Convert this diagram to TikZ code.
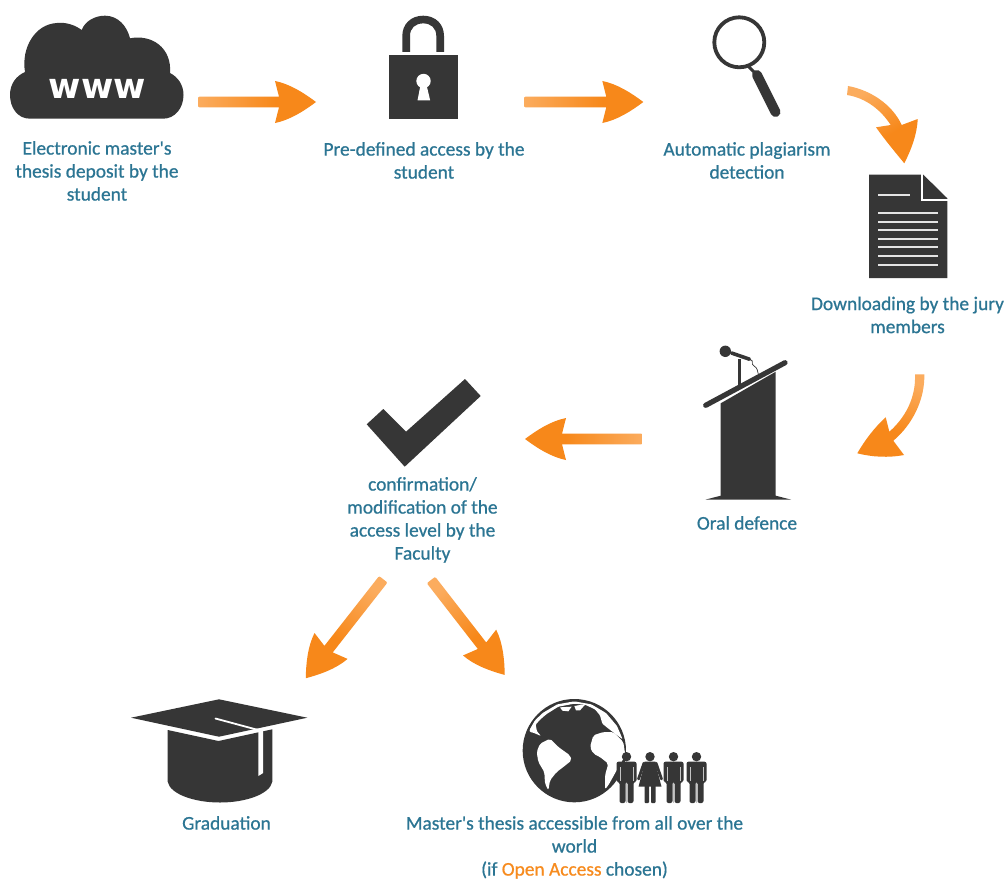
\documentclass[tikz,border=0pt]{standalone}
\usepackage{fontspec}
\newfontfamily\labelfont{Carlito}[FakeBold=0.7]
\newfontfamily\wwwfont{DejaVu Sans}[LetterSpace=1]
\usetikzlibrary{calc}
\definecolor{ink}{HTML}{363636}
\definecolor{teal}{HTML}{2B7593}
\definecolor{oaorange}{HTML}{F78B1E}
\definecolor{tailc}{HTML}{FBAC5E}
\definecolor{headc}{HTML}{F7881A}
\definecolor{ruled}{HTML}{E4E4E4}
\pgfdeclarehorizontalshading{arrowgrad}{100bp}{color(0bp)=(tailc); color(25bp)=(tailc); color(58bp)=(headc); color(100bp)=(headc)}
\newcommand\fatarrow[2]{%
  \path let \p1=($(#2)-(#1)$), \n1={atan2(\y1,\x1)}, \n2={veclen(\x1,\y1)} in
    \pgfextra{\xdef\faangle{\n1}\xdef\falen{\n2}};
  \begin{scope}[shift={(#1)},rotate=\faangle,x=1pt,y=1pt]
    \shade[shading=arrowgrad,shading angle=\faangle]
      (1.5,-5.3) -- ({\falen-37pt},-5.3pt) -- ({\falen-41pt},-21pt)
      .. controls ({\falen-26pt},-18pt) and ({\falen-12pt},-9pt) .. (\falen,0pt)
      .. controls ({\falen-12pt},9pt) and ({\falen-26pt},18pt) .. ({\falen-41pt},21pt)
      -- ({\falen-37pt},5.3pt) -- (1.5,5.3) .. controls (0,5.3) and (0,4) .. (0,3) -- (0,-3) .. controls (0,-4) and (0,-5.3) .. (1.5,-5.3) -- cycle;
  \end{scope}}
\tikzset{
  label text/.style={font=\labelfont\fontsize{19.4}{23}\selectfont,text=teal,align=center,inner sep=0pt},
  gapline/.style={draw=white,line width=1.6pt},
  rule line/.style={draw=ruled,line width=1.8pt},
  man/.pic={
    \fill[ink] (0,-7.3) circle (4.7);
    \fill[ink,rounded corners=2pt] (-10,-2.3) -- (10,-2.3) -- (10,18) -- (7,18) -- (7,39) -- (1,39) -- (1,18) -- (-1,18) -- (-1,39) -- (-7,39) -- (-7,18) -- (-10,18) -- cycle;
    \draw[white!70!ink,line width=.7pt] (-6.6,3) -- (-6.6,17) (6.6,3) -- (6.6,17) (0,19) -- (0,39);
  },
  woman/.pic={
    \fill[ink] (0,-7.3) circle (4.7);
    \fill[ink] (-5,-2.3) -- (5,-2.3) -- (11.5,22.7) -- (-11.5,22.7) -- cycle;
    \draw[ink,line width=2.8pt,line cap=round] (-6,-1) -- (-11.5,15) (6,-1) -- (11.5,15);
    \fill[ink,rounded corners=1pt] (-5.5,20) rectangle (-1,39);
    \fill[ink,rounded corners=1pt] (1,20) rectangle (5.5,39);
  }
}
\begin{document}
\begin{tikzpicture}[x=1pt,y=-1pt]
\useasboundingbox[fill=white] (0,0) rectangle (1008,880);

% ---- cloud
\fill[ink] (30,118.7)
  .. controls (17,118.7) and (10,107) .. (10,95)
  .. controls (10,84) and (16,76) .. (25,72)
  .. controls (21,48) and (35,24) .. (57,23)
  .. controls (66,22) and (75,25) .. (81.7,30)
  .. controls (85,21) and (95,15.7) .. (105,15.7)
  .. controls (118,15.7) and (127,26) .. (130,38.3)
  .. controls (152,34) and (172,48) .. (170,73)
  .. controls (178,77) and (183.5,85) .. (183.5,95)
  .. controls (183.5,108) and (175,118.7) .. (163,118.7) -- cycle;
\node[font=\wwwfont\bfseries\fontsize{35}{35}\selectfont,text=white,inner sep=0pt] (www) at (97.5,89) {www};

% ---- padlock
\fill[ink] (389.3,55) rectangle (458.3,119.3);
\fill[ink] (402.3,52) -- (402.3,36) .. controls (402.3,24) and (411,15.7) .. (423.2,15.7)
  .. controls (435.4,15.7) and (444,24) .. (444,36) -- (444,52) -- (436.3,52) -- (436.3,36)
  .. controls (436.3,28) and (431,23.4) .. (423.2,23.4)
  .. controls (415.4,23.4) and (410,28) .. (410,36) -- (410,52) -- cycle;
\fill[white] (423.5,81) circle (7.2);
\fill[white] (420.5,85) -- (426.5,85) -- (430.2,100.5) -- (417.5,100.5) -- cycle;

% ---- magnifier
\draw[ink,line width=3.8pt] (739.3,42.3) circle (25);
\draw[ink,line width=3pt] (748,66) -- (754,72);
\draw[ink,line width=10pt,line cap=round] (757,75) -- (775.5,112);

% ---- document
\fill[ink] (869,174.7) -- (923.3,174.7) -- (947.3,198.3) -- (947.3,278) -- (869,278) -- cycle;
\draw[gapline,line width=1.5pt] (922.2,174) -- (922.2,199.8) -- (948,199.8);
\foreach \yy in {213,221.7,230.3,239,247.3,256,264.7}
  \draw[rule line] (878.3,\yy) -- (938.3,\yy);
\draw[rule line] (878.3,194.7) -- (910,194.7);

% ---- lectern
\fill[ink] (720.7,403.3) -- (775.7,371.7) -- (775.7,495.7) -- (791,499.6) -- (705.5,499.6) -- (720.7,495.7) -- cycle;
\draw[ink,line width=5.2pt,line cap=round] (705.7,405.3) -- (785,362.7);
\draw[ink,line width=2.8pt] (739.3,359) -- (739.3,386);
\fill[ink] (725.3,351.3) circle (5.7);
\draw[ink,line width=3.6pt,line cap=round] (731.5,353) -- (749.5,359.2);
\draw[ink,line width=.7pt] (750,359.5) .. controls (755,361) and (750,364) .. (754,366) .. controls (758,368) and (757,371) .. (758.3,374);

% ---- check mark
\fill[ink] (465,379) -- (480.7,396) -- (404.7,466.7) -- (366.7,424.3) -- (383.3,409) -- (406,431.7) -- cycle;

% ---- mortarboard
\fill[ink] (131,717.7) -- (219,699.3) -- (307.3,717.7) -- (219,736.7) -- cycle;
\fill[ink] (167.7,730) -- (218.5,741) -- (272.3,729.3) -- (272.3,781.7)
  .. controls (270,794) and (246,802.5) .. (220,802.5)
  .. controls (194,802.5) and (170,794) .. (167.7,781.7) -- cycle;
\draw[gapline,line width=1.8pt,line cap=round] (215.5,718.5) -- (260,730.5);
\fill[white] (258.3,730) -- (263.2,730) -- (263.2,773) -- (258.3,776) -- cycle;

% ---- globe
\begin{scope}[shift={(515,692)},x=.3333pt,y=-.3333pt]
  \fill[ink] (178,176) circle (155);
  \fill[white,rounded corners=1pt] (44,120) -- (44,113) -- (60,85) -- (83,63) -- (127,37) -- (178,28) -- (229,37) -- (273,63) -- (306,102) -- (323,142)
    -- (300,125) -- (278,108) -- (262,95) -- (255,70) -- (240,52) -- (210,38) -- (178,35) -- (130,44) -- (95,66) -- (75,83)
    -- (62,98) -- (66,118) -- (78,132) -- (55,122) -- cycle;
  \fill[white] (135,46) -- (170,44) -- (160,58) -- (142,56) -- cycle;
  \fill[white] (178,42) -- (212,36) -- (195,55) -- (183,55) -- cycle;
  \fill[white,rounded corners=2pt] (65,180) -- (75,155) -- (105,140) -- (130,165) -- (165,190) -- (170,205) -- (145,225) -- (125,240) -- (105,265) -- (100,295) -- (90,275) -- (88,240) -- (70,210) -- cycle;
  \fill[white,rounded corners=2pt] (225,165) -- (235,130) -- (265,120) -- (295,120) -- (325,150) -- (331,190) -- (305,235) -- (280,280) -- (270,292) -- (270,250) -- (280,215) -- (255,195) -- (235,185) -- cycle;
\end{scope}

% ---- people
\pic at (626.5,764) {man};
\pic at (650,764) {woman};
\pic at (673.5,764) {man};
\pic at (696.5,764) {man};

% ---- labels
\node[label text] (t1) at (97,173) {\strut Electronic master's\\thesis deposit by the\\student\strut};
\node[label text] (t2) at (424,162.5) {\strut Pre-defined access by the\\student\strut};
\node[label text] (t3) at (747,162.5) {\strut Automatic plagiarism\\detection\strut};
\node[label text] (t4) at (907.5,317) {\strut Downloading by the jury\\members\strut};
\node[label text] (t5) at (747,525) {\strut Oral defence};
\node[label text] (t6) at (422.5,520.5) {\strut confirmation/\\modification of the\\access level by the\\Faculty\strut};
\node[label text] (t7) at (226.5,825) {\strut Graduation};
\node[label text] (t8) at (574.5,848) {\strut Master's thesis accessible from all over the\\world\\(if {\color{oaorange}Open Access} chosen)\strut};

% ---- connectors
\coordinate (a1s) at (198,102);   \coordinate (a1e) at (316,102);
\coordinate (a2s) at (524,102);   \coordinate (a2e) at (643.3,102);
\coordinate (a5s) at (642.7,439); \coordinate (a5e) at (525,439);
\coordinate (a6s) at (383.3,579.3); \coordinate (a6e) at (305.7,678.3);
\coordinate (a7s) at (431,580);   \coordinate (a7e) at (505,675.3);
\fatarrow{a1s}{a1e}
\fatarrow{a2s}{a2e}
\fatarrow{a5s}{a5e}
\fatarrow{a6s}{a6e}
\fatarrow{a7s}{a7e}
\shade[shading=arrowgrad,shading angle=-60]
  (848,86) .. controls (870,90) and (892,104) .. (901.7,125)
  -- (917.7,119) .. controls (917,135) and (911,150) .. (904.3,163.3)
  .. controls (895,152) and (885,140) .. (876,127.3)
  -- (890.7,125) .. controls (881,110) and (866,98) .. (847,95) -- cycle;
\shade[shading=arrowgrad,shading angle=-110]
  (915,374.3) -- (924.3,374.3) .. controls (925,400) and (912,425) .. (893.3,440.7)
  -- (904,455) .. controls (888,458) and (872,457) .. (857.3,453.3)
  .. controls (865,440) and (874,428) .. (885.7,417.3)
  -- (889.3,431.7) .. controls (905,418) and (916,398) .. (915,374.3) -- cycle;
\end{tikzpicture}
\end{document}
